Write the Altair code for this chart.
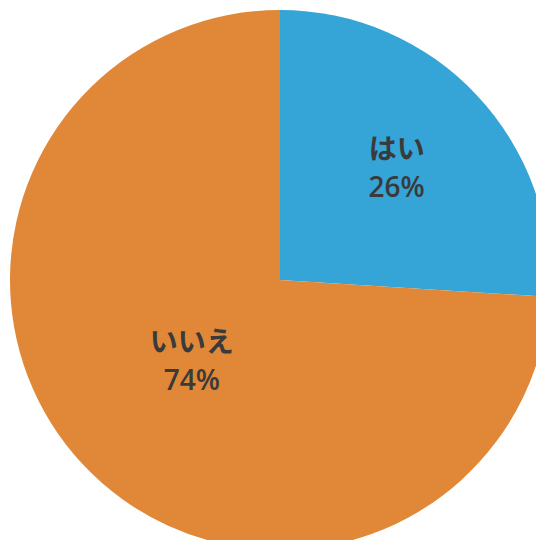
import altair as alt
import pandas as pd

labels = ["はい", "いいえ"]
values = [26, 74]
colors = ["#35A4D6", "#E08838"]
label_radius = [160, 121]

df = pd.DataFrame({"label": labels, "value": values, "order": [0, 1]})

theta_scale = alt.Scale(domain=[0, 1], range=[0, 6.283185307179586])

base = alt.Chart(df).transform_window(
    cum="sum(value)", sort=[alt.SortField("order")]
).transform_joinaggregate(
    total="sum(value)"
).transform_calculate(
    t0="(datum.cum - datum.value) / datum.total",
    t1="datum.cum / datum.total",
    tm="(datum.cum - datum.value / 2) / datum.total",
    txt="datum.label + '\\n' + datum.value + '%'",
)

pie = base.mark_arc(outerRadius=270).encode(
    x=alt.value(272),
    y=alt.value(272),
    theta=alt.Theta("t0:Q", scale=theta_scale),
    theta2="t1:Q",
    color=alt.Color("label:N", scale=alt.Scale(domain=labels, range=colors), legend=None),
)

texts = []
for lab, r in zip(labels, label_radius):
    texts.append(
        base.transform_filter(alt.datum.label == lab).mark_text(
            font="Open Sans, Noto Sans CJK JP",
            fontSize=28,
            fontWeight=600,
            lineBreak="\n",
            lineHeight=38,
            align="center",
            baseline="middle",
            color="#3a3a3a",
            radius=r,
            dy=-19,
        ).encode(
            x=alt.value(272),
            y=alt.value(272),
            theta=alt.Theta("tm:Q", scale=theta_scale),
            text="txt:N",
        )
    )

chart = alt.layer(pie, *texts).properties(
    width=528, height=532, padding=0, autosize=alt.AutoSizeParams(type="none")
).configure_view(stroke=None)

chart.save("out.html", embed_options={"renderer": "svg", "actions": False})
